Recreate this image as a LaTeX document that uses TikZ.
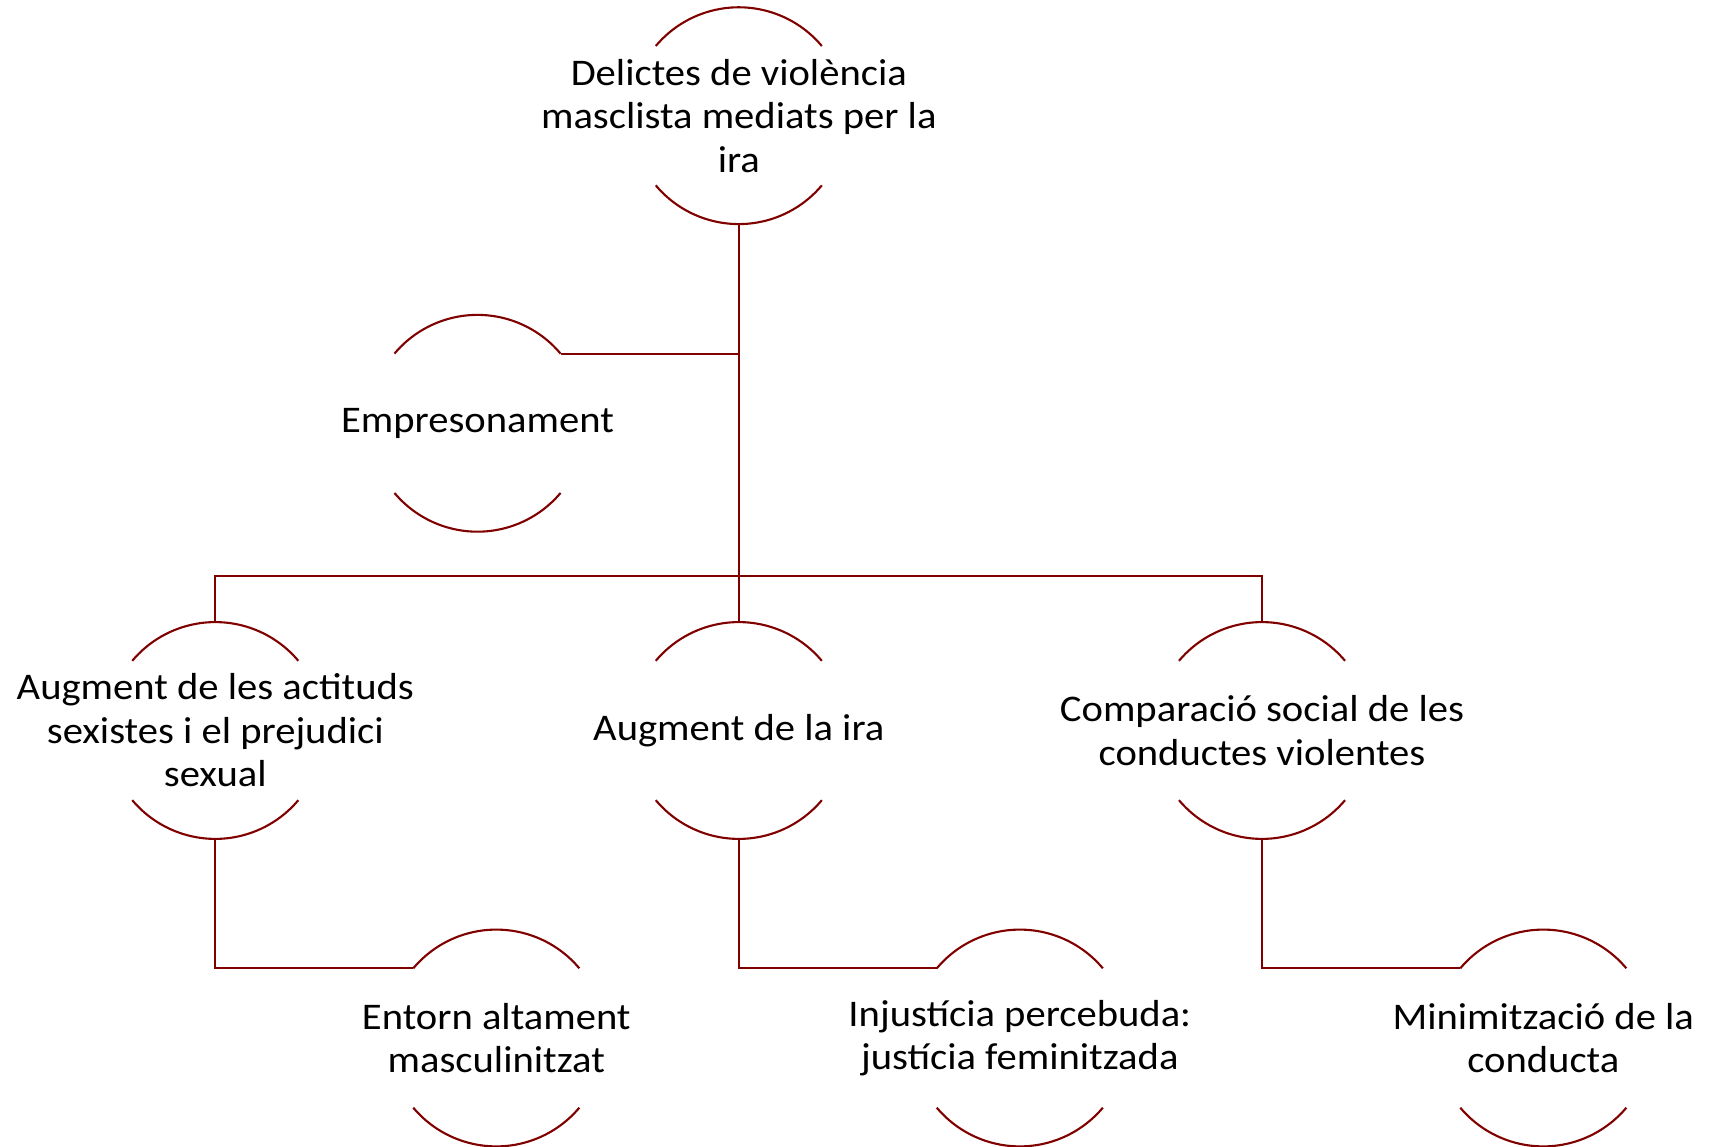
\documentclass[tikz,border=0pt]{standalone}
\usepackage{fontspec}
\setmainfont{Carlito}[FakeStretch=1.08]
\definecolor{ringred}{RGB}{128,0,0}
\newcommand{\rr}{1.084cm}
\tikzset{
  ring/.style={circle, minimum size=2.168cm, inner sep=0pt, outer sep=0pt},
  txt/.style={align=center, font=\fontsize{10.7}{12.4}\selectfont},
  ringline/.style={draw=ringred, line width=0.6pt},
  link/.style={draw=ringred, line width=0.6pt}
}
\begin{document}
\begin{tikzpicture}
        \useasboundingbox (0,0) rectangle (17.21,11.46) ;
        % nodes
        \node[ring, label={[txt]center:Delictes de violència\\masclista mediats per la\\ira}] (top) at (7.388,10.303) {} ;
        \node[ring, label={[txt]center:Empresonament}] (emp) at (4.775,7.227) {} ;
        \node[ring, label={[txt]center:Augment de les actituds\\sexistes i el prejudici\\sexual}] (aug1) at (2.153,4.155) {} ;
        \node[ring, label={[txt]center:Augment de la ira}] (aug2) at (7.388,4.155) {} ;
        \node[ring, label={[txt]center:Comparació social de les\\conductes violentes}] (comp) at (12.620,4.155) {} ;
        \node[ring, label={[txt]center:Entorn altament\\masculinitzat}] (ent) at (4.963,1.080) {} ;
        \node[ring, label={[txt]center:Injustícia percebuda:\\justícia feminitzada}] (inj) at (10.198,1.080) {} ;
        \node[ring, label={[txt]center:Minimització de la\\conducta}] (mini) at (15.433,1.080) {} ;
        % arcs
        \foreach \n in {top,emp,aug1,aug2,comp,ent,inj,mini} {
            \draw[ringline] (\n.40) arc (40:140:\rr) ;
            \draw[ringline] (\n.220) arc (220:320:\rr) ;
        }
        % connectors
        \coordinate (bar) at (7.388,5.700) ;
        \draw[link] (top.south) -- (aug2.north) ;
        \draw[link] (emp.40) -- (emp.40 -| top.south) ;
        \draw[link] (aug1.north) -- (aug1.north |- bar) -- (comp.north |- bar) -- (comp.north) ;
        \draw[link] (aug1.south) |- (ent.140) ;
        \draw[link] (aug2.south) |- (inj.140) ;
        \draw[link] (comp.south) |- (mini.140) ;
\end{tikzpicture}
\end{document}
